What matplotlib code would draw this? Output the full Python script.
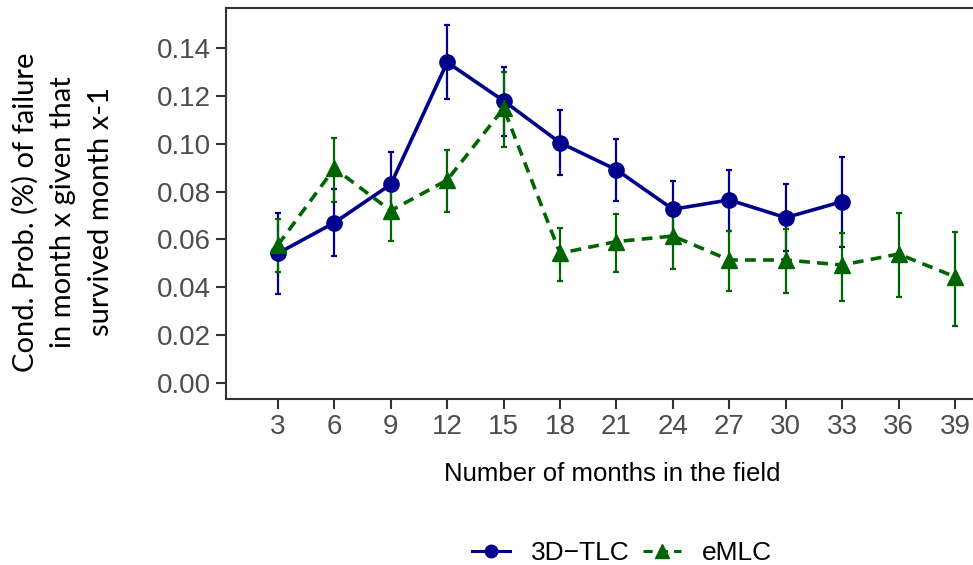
import numpy as np
import matplotlib.pyplot as plt
from matplotlib.lines import Line2D

# Data
months = [3, 6, 9, 12, 15, 18, 21, 24, 27, 30, 33, 36, 39]

tlc_months = months[:11]
tlc_mean = [0.0542, 0.0670, 0.0830, 0.1340, 0.1179, 0.1004, 0.0891, 0.0726, 0.0765, 0.0691, 0.0758]
tlc_lo = [0.0372, 0.0531, 0.0698, 0.1186, 0.1032, 0.0871, 0.0762, 0.0606, 0.0637, 0.0552, 0.0570]
tlc_hi = [0.0709, 0.0809, 0.0965, 0.1496, 0.1321, 0.1140, 0.1020, 0.0845, 0.0891, 0.0830, 0.0944]

emlc_mean = [0.0577, 0.0897, 0.0720, 0.0848, 0.1148, 0.0542, 0.0591, 0.0614, 0.0514, 0.0514, 0.0493, 0.0539, 0.0444]
emlc_lo = [0.0465, 0.0758, 0.0595, 0.0713, 0.0988, 0.0428, 0.0463, 0.0476, 0.0383, 0.0377, 0.0343, 0.0361, 0.0239]
emlc_hi = [0.0685, 0.1025, 0.0830, 0.0973, 0.1301, 0.0647, 0.0708, 0.0740, 0.0635, 0.0644, 0.0628, 0.0712, 0.0631]

yticks = [0.00, 0.02, 0.04, 0.06, 0.08, 0.10, 0.12, 0.14]

blue = '#00008B'
green = '#006400'
dash = (0, (3, 2))

fig = plt.figure(figsize=(9.73, 5.65), dpi=100)
ax = fig.add_axes([226 / 973, 1 - 399 / 565, 1 - 226 / 973, 391 / 565])

tlc_mean_a = np.array(tlc_mean)
tlc_err = [tlc_mean_a - np.array(tlc_lo), np.array(tlc_hi) - tlc_mean_a]
emlc_mean_a = np.array(emlc_mean)
emlc_err = [emlc_mean_a - np.array(emlc_lo), np.array(emlc_hi) - emlc_mean_a]

ax.errorbar(tlc_months, tlc_mean, yerr=tlc_err, color=blue, lw=2.6, marker='o', ms=11,
            elinewidth=1.6, capsize=2, capthick=1.6, zorder=3)
ax.errorbar(months, emlc_mean, yerr=emlc_err, color=green, lw=2.6, ls=dash, marker='^', ms=12,
            elinewidth=1.6, capsize=2, capthick=1.6, zorder=3)

ax.set_xlim(0.236, 39.96)
ax.set_ylim(-0.00669, 0.1567)
ax.set_xticks(months)
ax.set_xticklabels([str(m) for m in months])
ax.set_yticks(yticks)
ax.set_yticklabels(['%.2f' % v for v in yticks])

for side in ['left', 'top', 'bottom']:
    ax.spines[side].set_color('#333333')
    ax.spines[side].set_linewidth(1.5)
ax.spines['right'].set_visible(False)

ax.tick_params(axis='both', colors='#333333', length=7, width=1.5, labelsize=20,
               labelcolor='#4D4D4D', pad=4)
for lab in ax.get_xticklabels() + ax.get_yticklabels():
    lab.set_family('Liberation Sans')

ax.set_xlabel('Number of months in the field', fontsize=18.5, family='Liberation Sans', labelpad=14)
ax.xaxis.set_label_coords((612 - 226) / 747, -0.16)

fig.text(63 / 973, 1 - 212 / 565, 'Cond. Prob. (%) of failure\nin month x given that\nsurvived month x-1',
         rotation=90, ha='center', va='center', multialignment='center', fontsize=21,
         family='Lato', linespacing=1.55)

handles = [Line2D([], [], color=blue, lw=2.2, marker='o', ms=9),
           Line2D([], [], color=green, lw=2.2, ls=dash, marker='^', ms=10)]
fig.legend(handles, ['3D\u2212TLC', 'eMLC'], loc='center', bbox_to_anchor=(622 / 973, 1 - 553 / 565),
           ncol=2, frameon=False, prop={'family': 'Liberation Sans', 'size': 19},
           handlelength=1.45, handletextpad=0.8, columnspacing=0.5)

fig.savefig('out.png', dpi=100)
